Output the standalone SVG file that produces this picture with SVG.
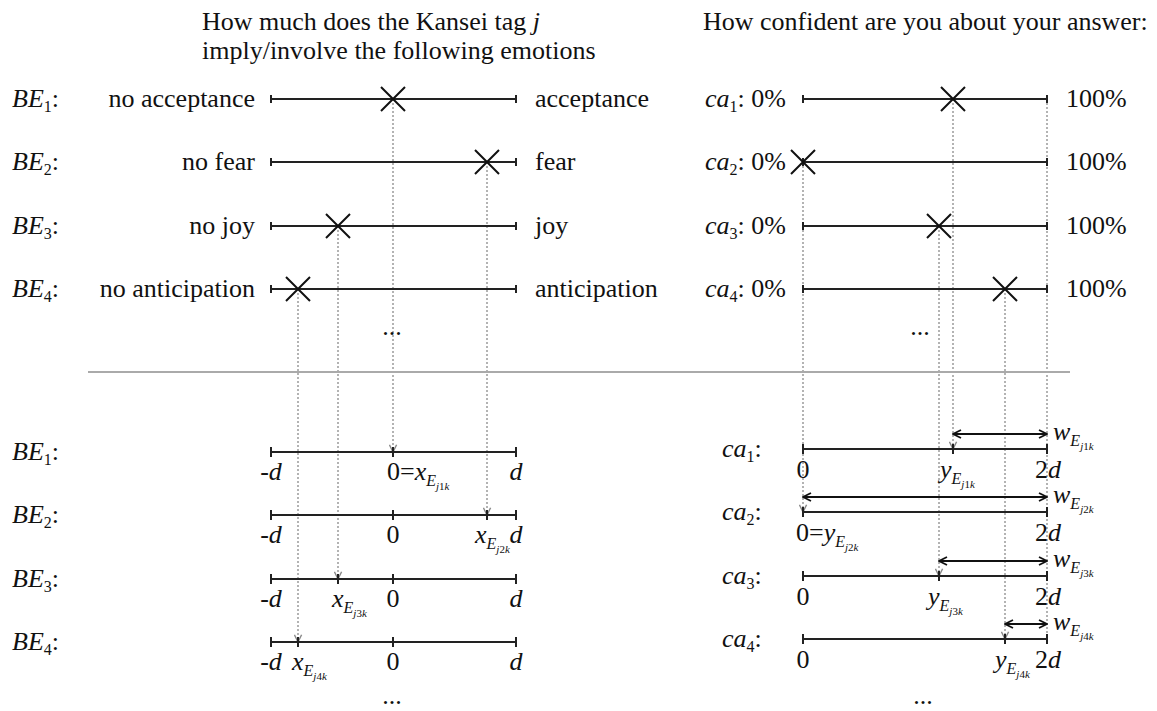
<svg xmlns="http://www.w3.org/2000/svg" width="1157" height="711" viewBox="0 0 1157 711">
<style>
.t{font-family:"Liberation Serif","Times New Roman",serif;font-size:26px;fill:#111}
.i{font-style:italic}
.n{font-style:normal}
.s1{font-size:16px}
.s2{font-size:11px}
.ln{stroke:#222;stroke-width:2;fill:none}
.tk{stroke:#222;stroke-width:2;fill:none}
.xm{stroke:#111;stroke-width:2;fill:none}
.dt{stroke:#9a9a9a;stroke-width:1.5;stroke-dasharray:2 2;fill:none}
.da{stroke:#111;stroke-width:2;fill:none}
</style>
<defs>
<marker id="dv" viewBox="0 0 10 10" refX="9" refY="5" markerWidth="9" markerHeight="9" markerUnits="userSpaceOnUse" orient="auto">
<path d="M1,1 L9,5 L1,9" fill="none" stroke="#8a8a8a" stroke-width="1.6"/>
</marker>
<marker id="ah" viewBox="0 0 10 10" refX="9" refY="5" markerWidth="10" markerHeight="10" markerUnits="userSpaceOnUse" orient="auto-start-reverse">
<path d="M1,1 L9,5 L1,9" fill="none" stroke="#111" stroke-width="1.8"/>
</marker>
</defs>
<rect width="1157" height="711" fill="#fff"/>

<g id="titles">
<text class="t" x="202" y="30">How much does the Kansei tag <tspan class="i">j</tspan></text>
<text class="t" x="202" y="59">imply/involve the following emotions</text>
<text class="t" x="703" y="30">How confident are you about your answer:</text>
</g>

<g id="connectors">
<path class="dt" d="M393,99 V452" marker-end="url(#dv)"/>
<path class="dt" d="M487,162 V515" marker-end="url(#dv)"/>
<path class="dt" d="M338,226 V579" marker-end="url(#dv)"/>
<path class="dt" d="M298,289 V642" marker-end="url(#dv)"/>
<path class="dt" d="M953,99 V449" marker-end="url(#dv)"/>
<path class="dt" d="M803,162 V512" marker-end="url(#dv)"/>
<path class="dt" d="M939,226 V576" marker-end="url(#dv)"/>
<path class="dt" d="M1005,289 V639" marker-end="url(#dv)"/>
<path class="dt" d="M1047,99 V639"/>
<path class="da" d="M953,434 H1047" marker-start="url(#ah)" marker-end="url(#ah)"/>
<path class="da" d="M803,497 H1047" marker-start="url(#ah)" marker-end="url(#ah)"/>
<path class="da" d="M939,561 H1047" marker-start="url(#ah)" marker-end="url(#ah)"/>
<path class="da" d="M1005,624 H1047" marker-start="url(#ah)" marker-end="url(#ah)"/>
</g>

<g id="top-be1">
<text class="t i" x="12" y="107">BE<tspan class="s1 n" dy="5">1</tspan><tspan class="n" dy="-5">:</tspan></text>
<text class="t" x="255" y="107" text-anchor="end">no acceptance</text>
<path class="ln" d="M271,99 H516 M271,95 V103 M516,95 V103"/>
<path class="xm" d="M381,87 L405,111 M405,87 L381,111"/>
<text class="t" x="535" y="107">acceptance</text>
</g>
<g id="top-be2">
<text class="t i" x="12" y="170">BE<tspan class="s1 n" dy="5">2</tspan><tspan class="n" dy="-5">:</tspan></text>
<text class="t" x="255" y="170" text-anchor="end">no fear</text>
<path class="ln" d="M271,162 H516 M271,158 V166 M516,158 V166"/>
<path class="xm" d="M475,150 L499,174 M499,150 L475,174"/>
<text class="t" x="535" y="170">fear</text>
</g>
<g id="top-be3">
<text class="t i" x="12" y="234">BE<tspan class="s1 n" dy="5">3</tspan><tspan class="n" dy="-5">:</tspan></text>
<text class="t" x="255" y="234" text-anchor="end">no joy</text>
<path class="ln" d="M271,226 H516 M271,222 V230 M516,222 V230"/>
<path class="xm" d="M326,214 L350,238 M350,214 L326,238"/>
<text class="t" x="535" y="234">joy</text>
</g>
<g id="top-be4">
<text class="t i" x="12" y="297">BE<tspan class="s1 n" dy="5">4</tspan><tspan class="n" dy="-5">:</tspan></text>
<text class="t" x="255" y="297" text-anchor="end">no anticipation</text>
<path class="ln" d="M271,289 H516 M271,285 V293 M516,285 V293"/>
<path class="xm" d="M286,277 L310,301 M310,277 L286,301"/>
<text class="t" x="535" y="297">anticipation</text>
</g>
<text class="t" x="392" y="335" text-anchor="middle">...</text>

<g id="top-ca1">
<text class="t" x="786" y="107" text-anchor="end"><tspan class="i">ca</tspan><tspan class="s1" dy="5">1</tspan><tspan dy="-5">: 0%</tspan></text>
<path class="ln" d="M803,99 H1047 M803,95 V103 M1047,95 V103"/>
<path class="xm" d="M941,87 L965,111 M965,87 L941,111"/>
<text class="t" x="1066" y="107">100%</text>
</g>
<g id="top-ca2">
<text class="t" x="786" y="170" text-anchor="end"><tspan class="i">ca</tspan><tspan class="s1" dy="5">2</tspan><tspan dy="-5">: 0%</tspan></text>
<path class="ln" d="M803,162 H1047 M803,158 V166 M1047,158 V166"/>
<path class="xm" d="M791,150 L815,174 M815,150 L791,174"/>
<text class="t" x="1066" y="170">100%</text>
</g>
<g id="top-ca3">
<text class="t" x="786" y="234" text-anchor="end"><tspan class="i">ca</tspan><tspan class="s1" dy="5">3</tspan><tspan dy="-5">: 0%</tspan></text>
<path class="ln" d="M803,226 H1047 M803,222 V230 M1047,222 V230"/>
<path class="xm" d="M927,214 L951,238 M951,214 L927,238"/>
<text class="t" x="1066" y="234">100%</text>
</g>
<g id="top-ca4">
<text class="t" x="786" y="297" text-anchor="end"><tspan class="i">ca</tspan><tspan class="s1" dy="5">4</tspan><tspan dy="-5">: 0%</tspan></text>
<path class="ln" d="M803,289 H1047 M803,285 V293 M1047,285 V293"/>
<path class="xm" d="M993,277 L1017,301 M1017,277 L993,301"/>
<text class="t" x="1066" y="297">100%</text>
</g>
<text class="t" x="920" y="335" text-anchor="middle">...</text>

<line x1="88" y1="372" x2="1070" y2="372" stroke="#aaa" stroke-width="2"/>

<g id="bot-be1">
<text class="t i" x="12" y="460">BE<tspan class="s1 n" dy="5">1</tspan><tspan class="n" dy="-5">:</tspan></text>
<path class="ln" d="M271,452 H516"/>
<path class="tk" d="M271,447 V457 M393,447 V457 M516,447 V457"/>
<text class="t" x="271" y="480" text-anchor="middle">-<tspan class="i">d</tspan></text>
<text class="t" x="387" y="480">0=<tspan class="i">x</tspan><tspan class="i s1" dy="6">E</tspan><tspan class="i s2" dy="4">j</tspan><tspan class="s2">1</tspan><tspan class="i s2">k</tspan></text>
<text class="t i" x="516" y="480" text-anchor="middle">d</text>
</g>
<g id="bot-be2">
<text class="t i" x="12" y="523">BE<tspan class="s1 n" dy="5">2</tspan><tspan class="n" dy="-5">:</tspan></text>
<path class="ln" d="M271,515 H516"/>
<path class="tk" d="M271,510 V520 M393,510 V520 M487,510 V520 M516,510 V520"/>
<text class="t" x="271" y="543" text-anchor="middle">-<tspan class="i">d</tspan></text>
<text class="t" x="393" y="543" text-anchor="middle">0</text>
<text class="t" x="475" y="543"><tspan class="i">x</tspan><tspan class="i s1" dy="6">E</tspan><tspan class="i s2" dy="4">j</tspan><tspan class="s2">2</tspan><tspan class="i s2">k</tspan></text>
<text class="t i" x="516" y="543" text-anchor="middle">d</text>
</g>
<g id="bot-be3">
<text class="t i" x="12" y="587">BE<tspan class="s1 n" dy="5">3</tspan><tspan class="n" dy="-5">:</tspan></text>
<path class="ln" d="M271,579 H516"/>
<path class="tk" d="M271,574 V584 M338,574 V584 M393,574 V584 M516,574 V584"/>
<text class="t" x="271" y="607" text-anchor="middle">-<tspan class="i">d</tspan></text>
<text class="t" x="332" y="607"><tspan class="i">x</tspan><tspan class="i s1" dy="6">E</tspan><tspan class="i s2" dy="4">j</tspan><tspan class="s2">3</tspan><tspan class="i s2">k</tspan></text>
<text class="t" x="393" y="607" text-anchor="middle">0</text>
<text class="t i" x="516" y="607" text-anchor="middle">d</text>
</g>
<g id="bot-be4">
<text class="t i" x="12" y="650">BE<tspan class="s1 n" dy="5">4</tspan><tspan class="n" dy="-5">:</tspan></text>
<path class="ln" d="M271,642 H516"/>
<path class="tk" d="M271,637 V647 M298,637 V647 M393,637 V647 M516,637 V647"/>
<text class="t" x="271" y="670" text-anchor="middle">-<tspan class="i">d</tspan></text>
<text class="t" x="292" y="670"><tspan class="i">x</tspan><tspan class="i s1" dy="6">E</tspan><tspan class="i s2" dy="4">j</tspan><tspan class="s2">4</tspan><tspan class="i s2">k</tspan></text>
<text class="t" x="393" y="670" text-anchor="middle">0</text>
<text class="t i" x="516" y="670" text-anchor="middle">d</text>
</g>
<text class="t" x="392" y="704" text-anchor="middle">...</text>

<g id="bot-ca1">
<text class="t" x="722" y="457"><tspan class="i">ca</tspan><tspan class="s1" dy="5">1</tspan><tspan dy="-5">:</tspan></text>
<path class="ln" d="M803,449 H1047"/>
<path class="tk" d="M803,444 V454 M953,444 V454 M1047,444 V454"/>
<text class="t" x="803" y="478" text-anchor="middle">0</text>
<text class="t" x="940" y="478"><tspan class="i">y</tspan><tspan class="i s1" dy="6">E</tspan><tspan class="i s2" dy="4">j</tspan><tspan class="s2">1</tspan><tspan class="i s2">k</tspan></text>
<text class="t" x="1035" y="478">2<tspan class="i">d</tspan></text>
<text class="t" x="1053" y="440"><tspan class="i">w</tspan><tspan class="i s1" dy="6">E</tspan><tspan class="i s2" dy="4">j</tspan><tspan class="s2">1</tspan><tspan class="i s2">k</tspan></text>
</g>
<g id="bot-ca2">
<text class="t" x="722" y="520"><tspan class="i">ca</tspan><tspan class="s1" dy="5">2</tspan><tspan dy="-5">:</tspan></text>
<path class="ln" d="M803,512 H1047"/>
<path class="tk" d="M803,507 V517 M1047,507 V517"/>
<text class="t" x="796" y="541">0=<tspan class="i">y</tspan><tspan class="i s1" dy="6">E</tspan><tspan class="i s2" dy="4">j</tspan><tspan class="s2">2</tspan><tspan class="i s2">k</tspan></text>
<text class="t" x="1035" y="541">2<tspan class="i">d</tspan></text>
<text class="t" x="1053" y="503"><tspan class="i">w</tspan><tspan class="i s1" dy="6">E</tspan><tspan class="i s2" dy="4">j</tspan><tspan class="s2">2</tspan><tspan class="i s2">k</tspan></text>
</g>
<g id="bot-ca3">
<text class="t" x="722" y="584"><tspan class="i">ca</tspan><tspan class="s1" dy="5">3</tspan><tspan dy="-5">:</tspan></text>
<path class="ln" d="M803,576 H1047"/>
<path class="tk" d="M803,571 V581 M939,571 V581 M1047,571 V581"/>
<text class="t" x="803" y="605" text-anchor="middle">0</text>
<text class="t" x="928" y="605"><tspan class="i">y</tspan><tspan class="i s1" dy="6">E</tspan><tspan class="i s2" dy="4">j</tspan><tspan class="s2">3</tspan><tspan class="i s2">k</tspan></text>
<text class="t" x="1035" y="605">2<tspan class="i">d</tspan></text>
<text class="t" x="1053" y="567"><tspan class="i">w</tspan><tspan class="i s1" dy="6">E</tspan><tspan class="i s2" dy="4">j</tspan><tspan class="s2">3</tspan><tspan class="i s2">k</tspan></text>
</g>
<g id="bot-ca4">
<text class="t" x="722" y="647"><tspan class="i">ca</tspan><tspan class="s1" dy="5">4</tspan><tspan dy="-5">:</tspan></text>
<path class="ln" d="M803,639 H1047"/>
<path class="tk" d="M803,634 V644 M1005,634 V644 M1047,634 V644"/>
<text class="t" x="803" y="668" text-anchor="middle">0</text>
<text class="t" x="995" y="668"><tspan class="i">y</tspan><tspan class="i s1" dy="6">E</tspan><tspan class="i s2" dy="4">j</tspan><tspan class="s2">4</tspan><tspan class="i s2">k</tspan></text>
<text class="t" x="1035" y="668">2<tspan class="i">d</tspan></text>
<text class="t" x="1053" y="630"><tspan class="i">w</tspan><tspan class="i s1" dy="6">E</tspan><tspan class="i s2" dy="4">j</tspan><tspan class="s2">4</tspan><tspan class="i s2">k</tspan></text>
</g>
<text class="t" x="923" y="704" text-anchor="middle">...</text>
</svg>
